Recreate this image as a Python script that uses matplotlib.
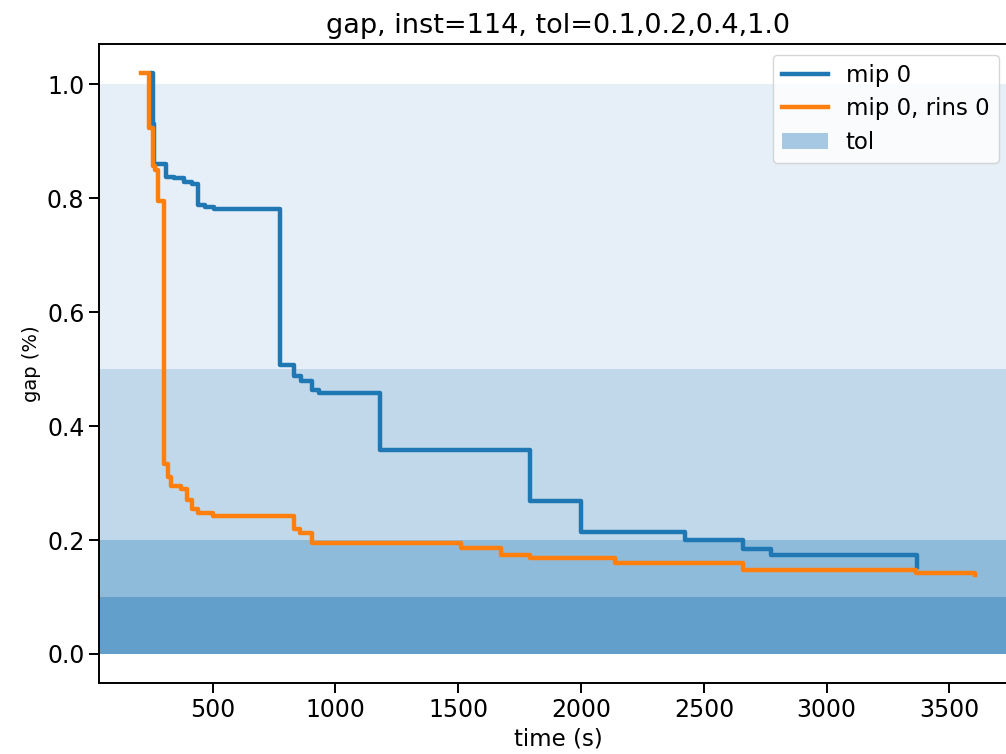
import matplotlib
matplotlib.use("Agg")
import matplotlib.pyplot as plt
from matplotlib.patches import Patch

# step data (time in s, gap)
t_mip = [253, 255, 258, 260, 309, 341, 382, 417, 440, 467, 505, 773, 831, 858,
         906, 933, 1181, 1790, 2000, 2425, 2660, 2774, 3368]
g_mip = [1.02, 0.958, 0.93, 0.861, 0.838, 0.835, 0.829, 0.825, 0.789, 0.785,
         0.781, 0.507, 0.488, 0.480, 0.463, 0.459, 0.3585, 0.269, 0.214, 0.200,
         0.185, 0.173, 0.153]

t_rins = [207, 240, 256, 266, 276, 300, 318, 330, 370, 395, 415, 440, 500, 831,
          855, 906, 1513, 1672, 1790, 2140, 2660, 3365, 3605]
g_rins = [1.02, 0.923, 0.856, 0.849, 0.796, 0.334, 0.31, 0.295, 0.29, 0.27,
          0.255, 0.248, 0.243, 0.220, 0.213, 0.195, 0.186, 0.173, 0.168, 0.160,
          0.148, 0.142, 0.139]

# tolerance bands (bottom, top) and their shades
band_lo = [0.5, 0.2, 0.1, 0.0]
band_hi = [1.0, 0.5, 0.2, 0.1]
band_col = ['#e6eff7', '#c0d8ea', '#8fbbda', '#629fca']

fig = plt.figure(figsize=(10.06, 7.54), dpi=100)
ax = fig.add_axes([99 / 1006, 71 / 754, 918 / 1006, 639 / 754])

for lo, hi, c in zip(band_lo, band_hi, band_col):
    ax.axhspan(lo, hi, color=c, lw=0)

ax.plot(t_mip, g_mip, drawstyle='steps-post', color='#1f77b4', lw=3.2)
ax.plot(t_rins, g_rins, drawstyle='steps-post', color='#ff7f0e', lw=3.2)

handles = [plt.Line2D([], [], color='#1f77b4', lw=3.2),
           plt.Line2D([], [], color='#ff7f0e', lw=3.2),
           Patch(facecolor='#a6c8e2', edgecolor='none')]
ax.legend(handles, ['mip 0', 'mip 0, rins 0', 'tol'], loc='upper right',
          fontsize=16.5, bbox_to_anchor=(0.980, 0.983), borderaxespad=0,
          handlelength=2.0, labelspacing=0.45)

ax.set_xticks([500, 1000, 1500, 2000, 2500, 3000, 3500])
ax.set_yticks([0.0, 0.2, 0.4, 0.6, 0.8, 1.0])
ax.tick_params(labelsize=17, length=7, width=1.4)
for s in ax.spines.values():
    s.set_linewidth(1.4)
ax.set_xlabel('time (s)', fontsize=16.5, labelpad=4)
ax.set_ylabel('gap (%)', fontsize=14)
ax.set_title('gap, inst=114, tol=0.1,0.2,0.4,1.0', fontsize=19.5, pad=8)

fig.savefig('out.png', dpi=100)
